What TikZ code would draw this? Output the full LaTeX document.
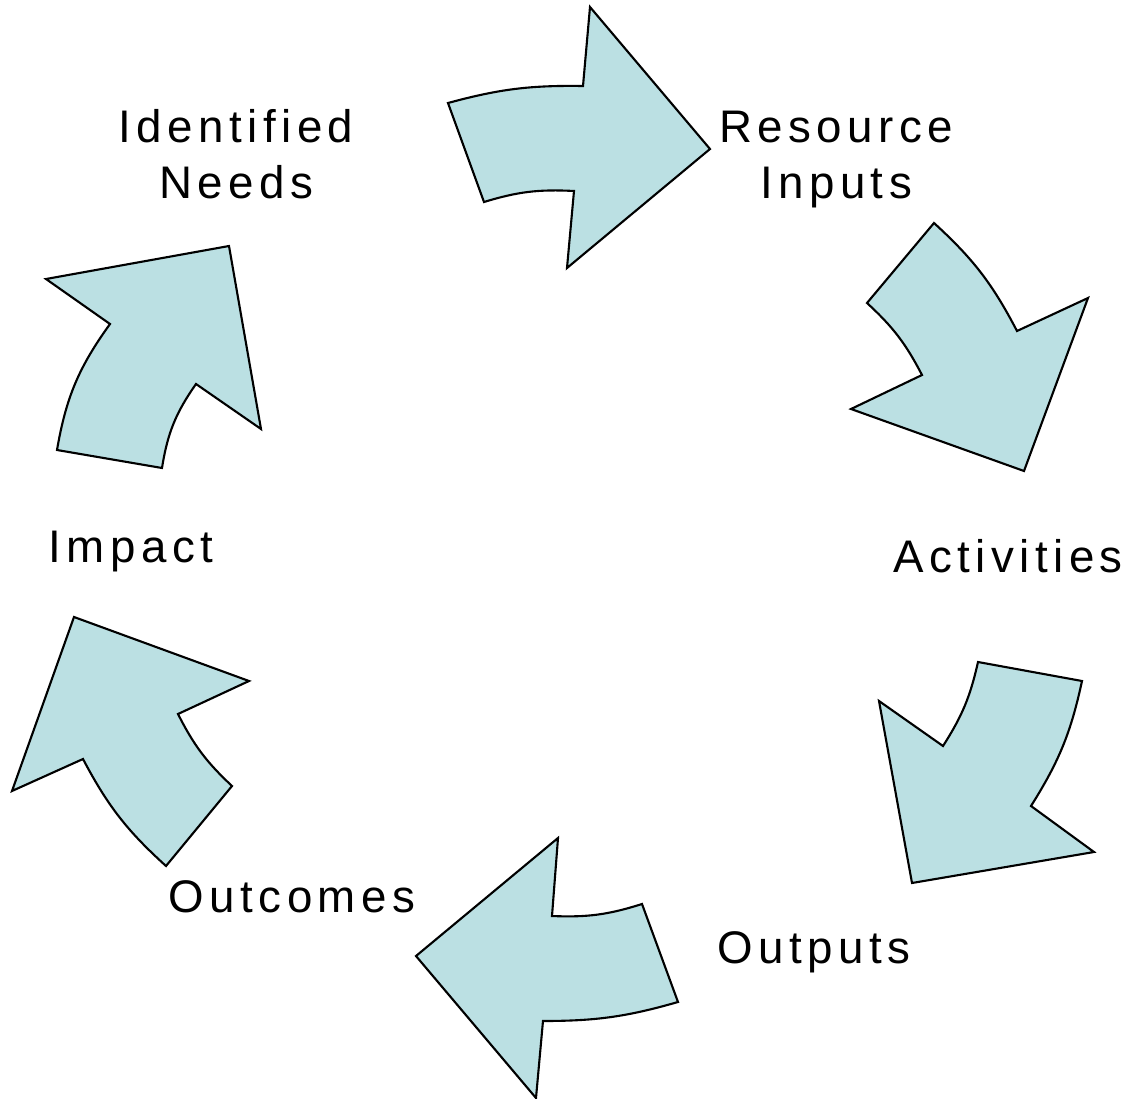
\documentclass[tikz,border=0pt]{standalone}
\usepackage{fontspec}
\setmainfont{Liberation Sans}[LetterSpace=12]
\definecolor{arrowfill}{RGB}{187,224,227}
\tikzset{
  cyclearrow/.style={draw=black,fill=arrowfill,line width=1.2pt,line join=miter},
  steplabel/.style={font=\fontsize{26}{31.8}\selectfont,anchor=base,inner sep=0pt,align=center}
}
\begin{document}
\begin{tikzpicture}[x=0.02cm,y=-0.02cm]
  \useasboundingbox (0,0) rectangle (1137,1099);
  \draw[cyclearrow] (448,103) to[bend left=8] (583,86) -- (590,7) -- (710,149) -- (567,268) -- (574,191) to[bend right=10] (484,202) -- cycle;
  \draw[cyclearrow] (934,223) to[bend left=10] (1017,331) -- (1088,298) -- (1024,471) -- (851,409) -- (922,375) to[bend right=10] (867,303) -- cycle;
  \draw[cyclearrow] (1082,681) to[bend left=10] (1031,806) -- (1094,852) -- (912,883) -- (879,701) -- (943,746) to[bend right=10] (978,662) -- cycle;
  \draw[cyclearrow] (678,1002) to[bend left=8] (543,1021) -- (536,1098) -- (416,956) -- (558,838) -- (552,916) to[bend right=10] (642,904) -- cycle;
  \draw[cyclearrow] (166,866) to[bend left=10] (83,759) -- (12,791) -- (74,617) -- (249,681) -- (178,714) to[bend right=10] (232,786) -- cycle;
  \draw[cyclearrow] (57,450) to[bend left=13] (110,324) -- (46,279) -- (229,246) -- (261,429) -- (196,384) to[bend right=13] (162,468) -- cycle;
  \node[steplabel] (needs) at (236,198) {Identified\\Needs};
  \node[steplabel] (inputs) at (836,198) {Resource\\Inputs};
  \node[steplabel] (activities) at (1008,572) {Activities};
  \node[steplabel] (outputs) at (814,963) {Outputs};
  \node[steplabel] (outcomes) at (292,912) {Outcomes};
  \node[steplabel] (impact) at (131,562) {Impact};
\end{tikzpicture}
\end{document}
